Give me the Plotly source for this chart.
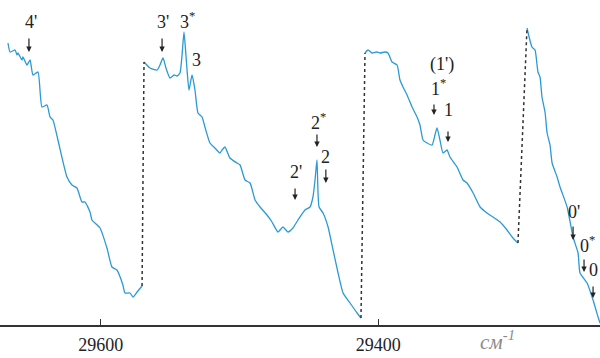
import plotly.graph_objects as go

# Segment data: wavenumber (cm-1) and intensity (arb. units)
seg1_x = [29666.8, 29665.3, 29661.7, 29660.3, 29659.6, 29656.7, 29656.0, 29653.1, 29650.9, 29648.8,
          29645.2, 29642.3, 29638.7, 29636.5, 29634.4, 29630.8, 29624.3, 29620.7, 29617.1, 29613.5,
          29611.3, 29607.7, 29606.3, 29600.5, 29595.5, 29591.9, 29588.3, 29584.0, 29582.5, 29578.9,
          29576.7, 29573.8, 29570.2]
seg1_y = [282, 273, 275, 270, 272, 265, 268, 260, 265, 250,
          253, 218, 220, 208, 205, 185, 148, 140, 137, 123,
          123, 113, 105, 97, 77, 58, 55, 40, 32, 32,
          28, 33, 39]

seg2_x = [29568.8, 29564.5, 29559.4, 29557.3, 29555.1, 29553.0, 29550.1, 29547.2, 29545.0, 29542.9,
          29541.4, 29540.0, 29538.6, 29537.8, 29536.4, 29534.2, 29532.1, 29529.9, 29527.0, 29524.9,
          29521.3, 29517.7, 29514.1, 29512.6, 29510.5, 29506.9, 29501.8, 29499.6, 29496.0, 29492.4,
          29488.8, 29485.2, 29480.2, 29476.6, 29472.3, 29468.7, 29465.1, 29461.5, 29457.9, 29452.8,
          29449.2, 29447.1, 29445.6, 29444.2, 29442.7, 29439.8, 29436.2, 29432.6, 29429.0, 29425.4,
          29420.4, 29415.3, 29412.5]
seg2_y = [263, 257, 255, 260, 267, 257, 247, 250, 249, 252,
          270, 293, 270, 255, 235, 250, 235, 212, 208, 198,
          182, 177, 172, 175, 178, 167, 162, 160, 145, 142,
          125, 118, 110, 103, 93, 98, 93, 97, 105, 115,
          118, 128, 145, 165, 118, 112, 98, 75, 52, 32,
          22, 12, 7]

seg3_x = [29409.6, 29407.4, 29404.5, 29400.9, 29398.8, 29395.2, 29393.0, 29390.1, 29386.5, 29384.4,
          29382.2, 29379.3, 29375.7, 29372.1, 29370.0, 29367.8, 29364.9, 29361.3, 29359.2, 29357.7,
          29355.6, 29353.4, 29350.5, 29348.4, 29343.3, 29339.0, 29336.1, 29331.7, 29326.7, 29321.7,
          29317.4, 29312.3, 29307.3, 29303.0, 29299.4]
seg3_y = [272, 275, 272, 273, 272, 273, 272, 263, 260, 245,
          238, 230, 218, 208, 200, 185, 182, 180, 190, 197,
          185, 172, 175, 168, 158, 145, 142, 132, 118, 112,
          108, 103, 95, 87, 82]

seg4_x = [29292.9, 29289.3, 29287.1, 29285.0, 29283.5, 29282.1, 29279.9, 29278.4, 29276.3, 29274.8,
          29271.2, 29269.1, 29264.0, 29259.7, 29256.1, 29254.7, 29249.6, 29245.3, 29241.7, 29240.3]
seg4_y = [297, 278, 275, 253, 248, 228, 213, 192, 180, 162,
          148, 138, 118, 88, 72, 52, 42, 25, 8, 2]

segments = [(seg1_x, seg1_y), (seg2_x, seg2_y), (seg3_x, seg3_y), (seg4_x, seg4_y)]

# Peak labels
label_text = ["4'", "3'", "3<sup>*</sup>", "3", "2<sup>*</sup>", "2", "2'",
              "(1')", "1<sup>*</sup>", "1", "0'", "0<sup>*</sup>", "0"]
label_x = [29650.2, 29555.1, 29537.2, 29531.3, 29443.0, 29437.8, 29459.3,
           29354.1, 29356.5, 29349.8, 29259.0, 29249.0, 29245.3]
label_y = [303, 303, 305, 265, 204, 168, 153,
           261, 238, 215, 113, 81, 55]

# Arrows: x, tail (top) intensity, tip (bottom) intensity
arrow_x = [29651.7, 29555.8, 29444.2, 29437.8, 29460.0, 29359.9, 29349.8, 29259.7, 29251.8, 29245.3]
arrow_top = [288, 288, 192, 157, 138, 222, 195, 100, 67, 40]
arrow_tip = [273, 273, 178, 142, 125, 210, 183, 85, 53, 27]

tick_vals = [29600, 29400]
tick_text = ["29600", "29400"]

line_color = "#2a9ad6"
serif = "Liberation Serif"

fig = go.Figure()
for sx, sy in segments:
    fig.add_trace(go.Scatter(x=sx, y=sy, mode="lines",
                             line=dict(color=line_color, width=1.3, shape="spline", smoothing=0.5),
                             hoverinfo="skip"))

# Dotted connectors between segments
for (ax_, ay_), (bx_, by_) in zip(segments[:-1], segments[1:]):
    fig.add_trace(go.Scatter(x=[ax_[-1], bx_[0]], y=[ay_[-1], by_[0]], mode="lines",
                             line=dict(color="#333333", width=1.5, dash="3px,3px"),
                             hoverinfo="skip"))

for t, x, y in zip(label_text, label_x, label_y):
    fig.add_annotation(x=x, y=y, text=t, showarrow=False, xref="x", yref="y",
                       font=dict(family=serif, size=18, color="#222222"))

for x, y0, y1 in zip(arrow_x, arrow_top, arrow_tip):
    fig.add_annotation(x=x, y=y1, ax=x, ay=y0, axref="x", ayref="y", xref="x", yref="y",
                       text="", showarrow=True, arrowhead=2, arrowsize=0.9,
                       arrowwidth=1.2, arrowcolor="#222222")

fig.add_annotation(x=29313.8, y=-31 / 325, xref="x", yref="paper",
                   text="<i>см</i><sup><i>-1</i></sup>",
                   showarrow=False, font=dict(family=serif, size=21, color="#8a8a8a"))

fig.update_layout(
    width=600, height=358,
    margin=dict(l=0, r=0, t=0, b=33),
    paper_bgcolor="white", plot_bgcolor="white",
    showlegend=False,
    xaxis=dict(range=[29672.55, 29240.3], showgrid=False, zeroline=False,
               showline=True, linecolor="#333333", linewidth=1.5,
               ticks="inside", ticklen=6, tickwidth=1.2, tickcolor="#333333",
               tickvals=tick_vals, ticktext=tick_text, ticklabelstandoff=3,
               tickfont=dict(family=serif, size=18, color="#222222")),
    yaxis=dict(range=[0, 325], visible=False),
)

fig.write_html("out.html")
